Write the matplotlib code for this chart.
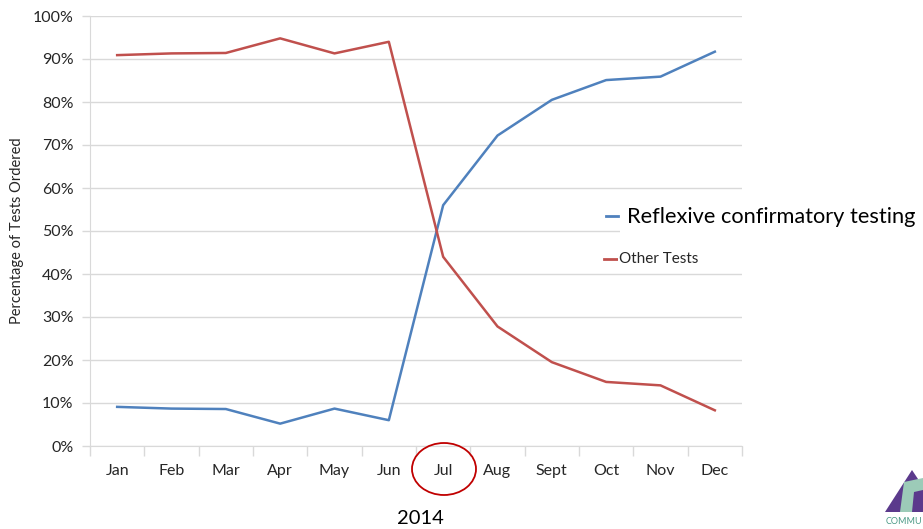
import matplotlib.pyplot as plt
from matplotlib.patches import Ellipse, Polygon
from matplotlib.lines import Line2D
from matplotlib.ticker import PercentFormatter

plt.rcParams['font.family'] = ['Lato', 'DejaVu Sans']

months = ["Jan", "Feb", "Mar", "Apr", "May", "Jun",
          "Jul", "Aug", "Sept", "Oct", "Nov", "Dec"]
reflexive = [9.1, 8.7, 8.6, 5.2, 8.7, 6.0, 56.0, 72.2, 80.5, 85.1, 85.9, 91.7]
other = [90.9, 91.3, 91.4, 94.8, 91.3, 94.0, 44.0, 27.8, 19.5, 14.9, 14.1, 8.3]
year = "2014"

blue = '#4f81bd'
red = '#c0504d'
grid = '#d9d9d9'

W, H = 923, 529
fig = plt.figure(figsize=(W / 100, H / 100), dpi=100)
ax = fig.add_axes([90 / W, 1 - 446 / H, 652 / W, 430 / H])

x = range(len(months))
ax.plot(x, reflexive, color=blue, lw=1.8, solid_joinstyle='round')
ax.plot(x, other, color=red, lw=1.8, solid_joinstyle='round')

ax.set_xlim(-0.5, len(months) - 0.5)
ax.set_ylim(0, 100)
ax.set_yticks(range(0, 101, 10))
ax.yaxis.set_major_formatter(PercentFormatter(decimals=0))
ax.set_xticks(list(x))
ax.set_xticklabels(months)
ax.set_xticks([i + 0.5 for i in range(-1, len(months))], minor=True)
ax.tick_params(axis='x', which='major', length=0, pad=13, labelsize=11.5, colors='#262626')
ax.tick_params(axis='x', which='minor', length=7, color=grid, width=1)
ax.tick_params(axis='y', length=6, color=grid, width=1, labelsize=11.5, colors='#262626', pad=6)

ax.grid(axis='y', color=grid, lw=1)
ax.set_axisbelow(True)
for side in ('top', 'right'):
    ax.spines[side].set_visible(False)
for side in ('left', 'bottom'):
    ax.spines[side].set_color(grid)
ax.set_ylabel("Percentage of Tests Ordered", fontsize=10.5, color='#262626', labelpad=6)

# legend entries placed by hand, white boxes mask the gridlines
fig.patches.append(Polygon([[620 / W, 1 - 203 / H], [922 / W, 1 - 203 / H],
                            [922 / W, 1 - 233 / H], [620 / W, 1 - 233 / H]],
                           closed=True, transform=fig.transFigure,
                           facecolor='white', edgecolor='none'))
fig.lines.append(Line2D([606 / W, 618 / W], [1 - 216 / H] * 2, color=blue, lw=2,
                        transform=fig.transFigure))
fig.text(627 / W, 1 - 217 / H, "Reflexive confirmatory testing", fontsize=15.7,
         va='center', ha='left', color='black')
fig.lines.append(Line2D([604 / W, 618 / W], [1 - 259 / H] * 2, color=red, lw=2,
                        transform=fig.transFigure))
fig.text(619 / W, 1 - 259 / H, "Other Tests", fontsize=11, va='center', ha='left',
         color='#262626', bbox=dict(facecolor='white', edgecolor='none', pad=1))

# circle around July
fig.patches.append(Ellipse((444 / W, 1 - 469 / H), 64 / W, 52 / H, transform=fig.transFigure,
                           fill=False, edgecolor='#c00000', lw=1.3))

fig.text(420 / W, 1 - 519 / H, year, fontsize=14.5, ha='center', va='center', color='black')

# corner logo
fig.patches.append(Polygon([[885 / W, 1 - 512 / H], [912 / W, 1 - 470 / H],
                            [940 / W, 1 - 512 / H]], closed=True,
                           transform=fig.transFigure, facecolor='#5b3a8c', edgecolor='none'))
fig.patches.append(Polygon([[900 / W, 1 - 512 / H], [904 / W, 1 - 482 / H], [923 / W, 1 - 478 / H],
                            [923 / W, 1 - 490 / H], [914 / W, 1 - 492 / H], [912 / W, 1 - 512 / H]],
                           closed=True, transform=fig.transFigure,
                           facecolor='#9ccbb8', edgecolor='none'))
fig.text(886 / W, 1 - 522 / H, "COMMU", fontsize=6.5, color='#4a9a86', ha='left', va='center')

fig.savefig('out.png', dpi=100)
